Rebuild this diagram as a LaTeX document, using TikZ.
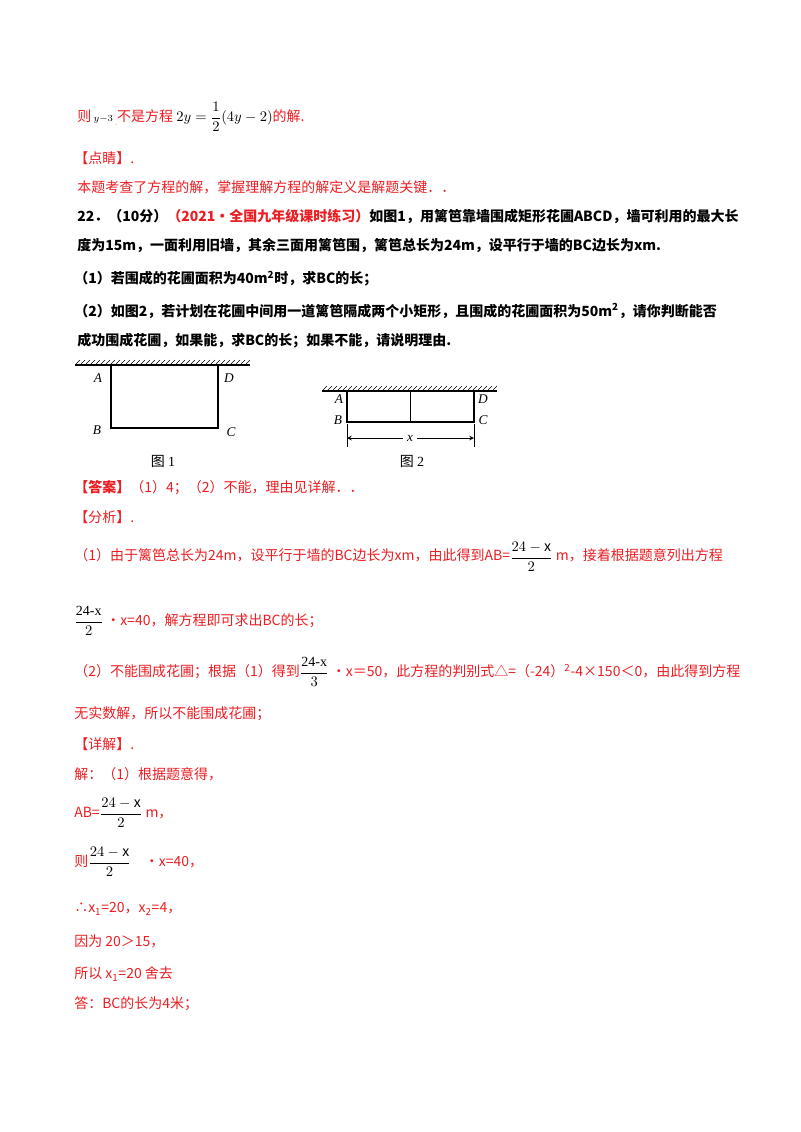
\documentclass[tikz,border=0pt]{standalone}
\usepackage{fontspec}
\usepackage{amsmath}
\setmainfont{Noto Sans CJK SC}
\newfontfamily\lib{Liberation Serif}
\definecolor{rd}{RGB}{235,30,35}
\begin{document}
\begin{tikzpicture}[x=0.75pt,y=-0.75pt,
  t/.style={anchor=west,inner sep=0pt,font=\fontsize{10.5}{12}\selectfont,text=rd},
  tb/.style={anchor=west,inner sep=0pt,font=\fontsize{10.5}{12}\selectfont\bfseries,text=black},
  lab/.style={inner sep=0pt,font=\lib\itshape\fontsize{10}{12}\selectfont},
  fr/.style={inner sep=0pt,font=\fontsize{10.5}{12}\selectfont},
  edge/.style={line width=0.9pt}]
\fill[white] (0,0) rectangle (800,1132);
\node[t] (l1) at (77,117) {则\,$\scriptstyle\color{black} y-3$\,\raisebox{-3pt}{\tiny.}不是方程 {\color{black}$2y=\dfrac{1}{2}(4y-2)$}的解.};
\node[t] (l2) at (74,158) {【点睛】.};
\node[t] (l3) at (77,187) {本题考查了方程的解，掌握理解方程的解定义是解题关键．．};
\node[tb] (l4) at (77,216) {22．（10分）{\color{rd}（2021·全国九年级课时练习）}如图1，用篱笆靠墙围成矩形花圃ABCD，墙可利用的最大长};
\node[tb] (l5) at (77,246) {度为15m，一面利用旧墙，其余三面用篱笆围，篱笆总长为24m，设平行于墙的BC边长为xm.};
\node[tb] (l6) at (74,279) {（1）若围成的花圃面积为40m\textsuperscript{2}时，求BC的长；};
\node[tb] (l7) at (74,311) {（2）如图2，若计划在花圃中间用一道篱笆隔成两个小矩形，且围成的花圃面积为50m\textsuperscript{2}，请你判断能否};
\node[tb] (l8) at (77,341) {成功围成花圃，如果能，求BC的长；如果不能，请说明理由.};
% figure 1
\draw[line width=0.8pt] (75,365) -- (250,365);
\foreach \i in {0,...,34} \draw[line width=0.4pt] (76+5*\i,364) -- (80+5*\i,360);
\draw[edge] (111,365) -- (111,428) -- (218,428) -- (218,365);
\node[lab] (A1) at (98,378) {A};
\node[lab] (D1) at (229,378) {D};
\node[lab] (B1) at (97,430) {B};
\node[lab] (C1) at (231,432) {C};
\node[fr] (f1) at (163,461) {图 {\lib 1}};
% figure 2
\draw[line width=0.8pt] (322,391) -- (497,391);
\foreach \i in {0,...,34} \draw[line width=0.4pt] (323+5*\i,390) -- (327+5*\i,386);
\draw[edge] (347,391) -- (347,422) -- (474,422) -- (474,391);
\draw[line width=0.5pt] (410,391) -- (410,422);
\node[lab] (A2) at (339,399) {A};
\node[lab] (D2) at (483,399) {D};
\node[lab] (B2) at (338,420) {B};
\node[lab] (C2) at (483,420) {C};
\draw[line width=0.6pt] (347,424) -- (347,447);
\draw[line width=0.6pt] (474,424) -- (474,447);
\node[lab,fill=white,inner sep=3pt] (X2) at (410,438) {x};
\coordinate (L2) at (347,438); \coordinate (R2) at (474,438);
\draw[-stealth,line width=0.6pt] (X2) -- (L2);
\draw[-stealth,line width=0.6pt] (X2) -- (R2);
\node[fr] (f2) at (412,461) {图 {\lib 2}};
% answers
\node[t,font=\fontsize{10.5}{12}\selectfont\bfseries] (l9) at (74,488) {【答案】{\mdseries（1）4；（2）不能，理由见详解．．}};
\node[t] (l10) at (74,517) {【分析】.};
\node[t] (l11) at (74,557) {（1）由于篱笆总长为24m，设平行于墙的BC边长为xm，由此得到AB=\raisebox{-1pt}{\color{black}\lib$\dfrac{24-\mathrm{x}}{2}$} m，接着根据题意列出方程};
\node[t] (l12) at (74,621) {{\color{black}\lib$\dfrac{\text{24-x}}{2}$} •x=40，解方程即可求出BC的长；};
\node[t] (l13) at (74,672) {（2）不能围成花圃；根据（1）得到{\color{black}\lib$\dfrac{\text{24-x}}{3}$} •x＝50，此方程的判别式△=（-24）\textsuperscript{2}-4×150＜0，由此得到方程};
\node[t] (l14) at (74,714) {无实数解，所以不能围成花圃；};
\node[t] (l15) at (74,744) {【详解】.};
\node[t] (l16) at (74,774) {解：（1）根据题意得，};
\node[t] (l17) at (74,813) {AB={\color{black}\lib$\dfrac{24-\mathrm{x}}{2}$} m，};
\node[t] (l18) at (74,862) {则{\color{black}\lib$\dfrac{24-\mathrm{x}}{2}$}\quad •x=40，};
\node[t] (l19) at (74,909) {∴x\textsubscript{1}=20，x\textsubscript{2}=4，};
\node[t] (l20) at (74,941) {因为 20＞15，};
\node[t] (l21) at (74,974) {所以 x\textsubscript{1}=20 舍去};
\node[t] (l22) at (74,1004) {答：BC的长为4米；};
\end{tikzpicture}
\end{document}
